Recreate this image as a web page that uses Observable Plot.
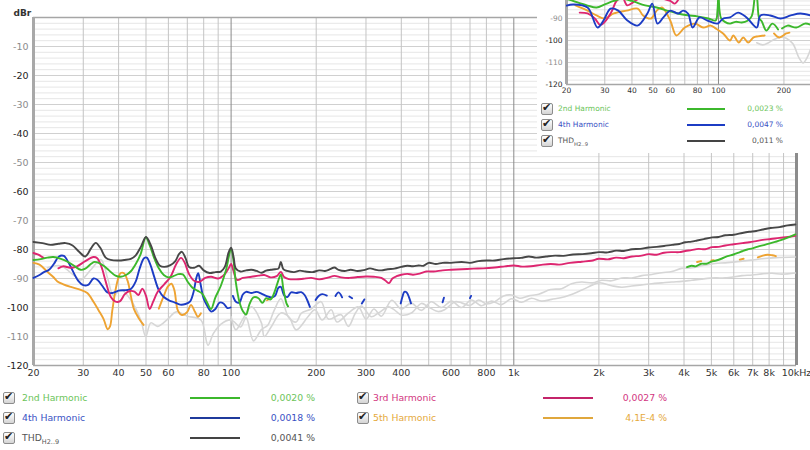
<!DOCTYPE html>
<html><head><meta charset="utf-8">
<script src="https://cdn.jsdelivr.net/npm/d3@7"></script>
<script src="https://cdn.jsdelivr.net/npm/@observablehq/plot@0.6"></script>
<style>
body{margin:0;background:#fff;font-family:"DejaVu Sans",sans-serif;}
#wrap{position:relative;width:810px;height:450px;overflow:hidden;background:#fff}
#main{position:absolute;left:0;top:0}
#inset{position:absolute;left:537px;top:0;width:273px;height:153px;background:#fff;overflow:hidden}
#insetPlot{position:absolute;left:0;top:0}
.lg{position:absolute;white-space:nowrap;line-height:12px;height:12px}
.cb{position:absolute;width:10px;height:10px;border:1px solid #8c8c8c;border-radius:2px;background:linear-gradient(#ffffff,#d4d4d4);}
.cb span{position:absolute;left:0px;top:-2px;font-size:11px;line-height:12px;color:#222;font-weight:bold}
.sw{position:absolute;height:2px}
sub{font-size:70%;vertical-align:-3px;line-height:0}
</style></head>
<body><div id="wrap"><div id="main"></div><div id="inset"><div id="insetPlot"></div></div></div>
<script>
// ---------- data (frequency Hz, level dBr) ----------
const xTickVals = [20,30,40,50,60,80,100,200,300,400,600,800,1000,2000,3000,4000,5000,6000,7000,8000,10000];
const xTickLabels = ["20","30","40","50","60","80","100","200","300","400","600","800","1k","2k","3k","4k","5k","6k","7k","8k","10kHz"];
const xGridVals = [30,40,50,60,70,80,90,200,300,400,500,600,700,800,900,2000,3000,4000,5000,6000,7000,8000,9000];
const xDecadeVals = [100,1000];
const yTickVals = [-10,-20,-30,-40,-50,-60,-70,-80,-90,-100,-110,-120];
const yTickLabels = ["-10","-20","-30","-40","-50","-60","-70","-80","-90","-100","-110","-120"];

const thd = [[20,-77.4],[21.5,-77.8],[23,-78.4],[24.5,-78],[26,-77.8],[27.5,-78.6],[29,-80.8],[30.5,-82.4],[32,-79.5],[33.2,-77.7],[34.5,-79.5],[36,-82.8],[37.5,-83.6],[40,-83.8],[42,-83.6],[44.2,-83.2],[46,-82],[48,-79],[50,-75.7],[52,-78.5],[54,-83],[56,-85.6],[58,-86],[61,-85.4],[63.5,-84],[65.5,-81.5],[67,-80.8],[69,-83],[71,-86],[74,-86.3],[77,-85.6],[80,-87.2],[84,-88.1],[88,-87.8],[92,-87.6],[95,-86],[98,-81],[100,-79.4],[102,-82.5],[104,-86.6],[108,-87.6],[113,-87.2],[118,-87],[123,-87.4],[128,-88],[133,-87.3],[138,-87],[143,-86.8],[147,-86.6],[150,-84.3],[153,-86.8],[158,-87.4],[167,-87.8],[175,-87.3],[183,-87.6],[194,-87.8],[205,-87.2],[215,-87.4],[224,-86.8],[232,-86.2],[240,-87],[252,-87.4],[265,-87],[280,-87.4],[295,-87.1],[310,-86.5],[325,-87],[340,-87.2],[358,-86.8],[378,-86.6],[400,-86],[420,-85.6],[440,-85.8],[460,-85.5],[480,-85.6],[500,-84.6],[530,-85],[560,-84.6],[600,-84.6],[654,-84.3],[700,-84.6],[750,-84],[800,-83.8],[856,-83.8],[920,-83.3],[1000,-83],[1060,-82.9],[1130,-82.4],[1200,-82.8],[1300,-82.4],[1400,-82.1],[1500,-82.2],[1620,-81.7],[1750,-81.6],[1880,-81.3],[2000,-80.9],[2150,-81],[2300,-80.4],[2450,-80.5],[2620,-79.9],[2800,-79.8],[3000,-79.3],[3200,-79.1],[3400,-78.8],[3630,-78.4],[3850,-78.1],[4040,-77.5],[4250,-77.3],[4450,-76.9],[4700,-76.4],[5030,-75.8],[5300,-75.7],[5600,-75.1],[6000,-74.9],[6430,-74.3],[6800,-73.9],[7200,-73.6],[7600,-73.1],[8100,-72.6],[8700,-72.3],[9300,-71.7],[9910,-71.4]];

const h3 = [[20,-81.2],[20.8,-81.8],[21.7,-82.9],[22.5,NaN],[24.5,-86.5],[25.5,-85.8],[27,-86.3],[28.5,-85.8],[30.5,-84],[32.6,-82.6],[33.6,-83],[34.8,-86],[36,-91],[37.5,-96.3],[39,-98],[40.5,-97.8],[42,-95.5],[43.5,-94.4],[45.5,-94.5],[47,-95.7],[48.5,-93.5],[50,-96],[51.5,-100.5],[53,-98],[55,-94.6],[58,-92],[61,-89.5],[64,-85],[66.5,-82.9],[68.5,-84.5],[71,-88.5],[74,-90.8],[77,-91.2],[81,-89.8],[85,-89.4],[90,-90],[95,-88.5],[98,-86.5],[100,-85],[102,-87.5],[105,-90.5],[110,-89.8],[118,-89.4],[125,-89],[131,-88.8],[138,-89.6],[145,-89.2],[150,-87.7],[154,-89.5],[160,-90.2],[170,-90.3],[180,-90.1],[192,-89.8],[205,-90.3],[220,-89.7],[232,-89.1],[245,-89.6],[262,-89.8],[280,-89.5],[300,-89.3],[320,-89.4],[340,-89.8],[352,-90.8],[362,-91.6],[372,-90],[385,-89.2],[400,-88.7],[420,-88.4],[440,-88.7],[465,-88.3],[490,-87.6],[520,-87.6],[560,-87.2],[600,-87],[654,-86.8],[720,-86.6],[780,-86.5],[856,-86.2],[930,-85.8],[1000,-85.5],[1070,-85.9],[1150,-85.8],[1250,-85.3],[1350,-85],[1450,-85.2],[1580,-84.6],[1740,-84.2],[1880,-83.9],[2000,-83.2],[2150,-83.4],[2300,-82.8],[2450,-83],[2620,-82.4],[2800,-82.2],[3000,-81.6],[3200,-81.8],[3400,-81.1],[3630,-80.9],[3850,-80.9],[4040,-80.5],[4250,-80.2],[4500,-79.8],[4750,-79.9],[5030,-79.2],[5300,-79.1],[5600,-78.6],[6000,-78.2],[6430,-77.8],[6800,-77.5],[7200,-77.1],[7600,-76.7],[8100,-76.4],[8700,-76],[9300,-75.7],[9910,-75.3]];

const h2 = [[20,-83.6],[21.2,-83.3],[22.4,-82.8],[23.5,-82.6],[25,-83.2],[26.5,-84.3],[28,-85.8],[29.4,-87],[30.5,-86.6],[31.9,-85],[32.8,-84.3],[34,-84.6],[35.4,-85.6],[37,-87.2],[39,-89],[40.7,-89.4],[42.5,-88.8],[44.2,-87.5],[46,-85],[47.9,-81.5],[49.9,-75.8],[51.5,-78.5],[53.3,-82.6],[55.5,-86.5],[57.8,-88.8],[60,-89.6],[62.5,-89.2],[65,-88.5],[67.5,-88.6],[70.3,-91.2],[73,-93.2],[76,-94.2],[79,-95.2],[82,-98],[84.9,-100.5],[88,-96.5],[92,-92.5],[96,-87],[100,-79.7],[102,-84],[104,-91.5],[107,-98],[110,-101.2],[113,-102.4],[116,-99],[120,-96.5],[125,-96.8],[129,-98.4],[133,-96.8],[138,-97.2],[142,-95],[146,-91.5],[150,-88.6],[153,-93.5],[157,-98.6],[159,-99.6],[160,NaN],[4100,-86.1],[4250,-85.6],[4400,-85.8],[4600,-84.9],[4800,-84.9],[5000,-84.2],[5200,-83.8],[5450,-83.1],[5700,-82.3],[5950,-81.8],[6200,-81.2],[6430,-80.6],[6700,-80],[7000,-79.6],[7300,-79],[7650,-78.5],[8000,-78],[8400,-77.4],[8800,-76.8],[9300,-75.9],[9910,-74.8]];

const h4 = [[20,-89.8],[21,-88.8],[21.7,-87.9],[22.7,-87],[23.6,-85],[24.6,-82.4],[25.6,-82.2],[26.6,-84.5],[27.7,-87.9],[28.8,-90.8],[30,-92.3],[31.2,-92.2],[32.6,-90],[33.7,-90.5],[35,-92.5],[36.5,-94.8],[38,-95],[40,-94.2],[42.5,-94],[44.2,-93.6],[46,-91],[47.5,-86.5],[49.2,-83],[50.3,-82.8],[51.8,-85.2],[53.3,-89],[55.5,-94],[57.8,-96.4],[60.5,-97.6],[63,-98.2],[66,-99],[69,-98.8],[71.5,-98],[73.5,-95],[75.5,-89.5],[76.5,-88.2],[78,-92],[80,-97],[82.5,-99.6],[85,-101.4],[88,-100.5],[91,-98.3],[94,-98.6],[97,-100.2],[99.5,-100],[100,NaN],[101.5,-96],[104,-98],[107,-98.3],[110,-95.5],[113,-94.6],[118,-95],[123,-94.6],[128,-95.2],[133,-96],[139,-96.5],[143,-96],[147,-93.2],[150,-92.9],[154,-95.8],[158,-96.4],[163,-94.8],[170,-95],[177,-94.7],[182,-95.7],[186,-97.5],[190,-99.8],[193,NaN],[199,-97.4],[204,-96],[210,-95.4],[218,-95.9],[222,NaN],[234,-96],[240,-94.8],[247,-96.5],[250,NaN],[262,-96.2],[268,-96.8],[270,NaN],[290,-98.6],[296,-97.2],[298,NaN],[398,-98.6],[404,-96.2],[410,-94.6],[418,-94.8],[426,-96.5],[433,-98.6],[436,NaN],[560,-98.2],[566,-96.6],[568,NaN],[700,-96.8],[706,-96],[708,NaN]];

const h5 = [[20,-84.6],[21,-85.2],[22.4,-87.7],[23.5,-89.5],[24.3,-91],[25.5,-92],[27.1,-92.9],[29.4,-93.9],[31,-95],[32.6,-98],[34,-101],[35.4,-104],[36.6,-107.5],[37.3,-106.5],[38,-101],[39,-94],[40,-89.5],[40.7,-88.1],[41.8,-88.2],[43.1,-91],[44.2,-96],[45.3,-100.5],[47,-103.5],[49,-106],[50,NaN],[55.5,-100.4],[57.8,-96],[59.7,-92.8],[61.5,-91.8],[63,-94],[64.8,-101],[67,-102.6],[70,-101.5],[72.1,-99.1],[74.5,-101.5],[76.3,-103.2],[78.2,-102],[79,NaN],[134,-97.5],[138,-96.8],[140,NaN],[4450,-84.3],[4600,-84],[4650,NaN],[5000,-83.8],[5100,-83.7],[5150,NaN],[6300,-83.5],[6500,-83.2],[6550,NaN],[7300,-82.7],[7600,-82.1],[7900,-81.8],[8200,-82],[8450,-82.3]];

const hiA = [[22.4,-86.3],[24.9,-85.6],[27.7,-88.8],[29.4,-90.5],[31.9,-87],[34.6,-83.5],[36.6,-90],[38.4,-96],[40.7,-93.9],[44.2,-97.4],[47.9,-104.3],[49.9,-110],[52,-105.3],[55,-106.5],[59.7,-104],[64,-101.5],[70,-103],[78.2,-104.3],[82.8,-113],[86.5,-109],[92.1,-105.7],[100,-104.3],[108,-106.7],[113,-103.5],[120,-111.5],[127.7,-107.7],[135,-106],[142,-101],[150,-97],[160,-103.5],[170,-105],[177,-102],[192,-100.5],[208,-98],[221,-104],[245,-102.5],[260,-106.5],[275,-102],[289,-99.5],[313,-103.2],[332,-101.9],[360,-99.8],[378,-100.8],[400,-102.6],[434,-101.9],[471,-98.6],[499,-99.8],[540,-101.4],[569,-100.8],[620,-98],[654,-98.4],[700,-99.3],[751,-97.4],[800,-98.8],[856,-98],[920,-96],[983,-95.7],[1050,-96.8],[1129,-96],[1225,-95.4],[1350,-93.8],[1476,-93.5],[1600,-91.8],[1738,-91.2],[1900,-91.5],[2046,-90.6],[2220,-90.8],[2409,-89.8],[2614,-89.8],[2836,-89],[3077,-88.6],[3339,-88],[3622,-87.6],[3930,-86.5],[4265,-86.3],[4627,-85.6],[5157,-84.8],[5600,-84.6],[6413,-84],[7000,-83.6],[7549,-83.2],[8500,-82.8],[9910,-82.6]];

const hiB = [[100,-103.2],[104,-107.7],[110,-104],[118,-99.8],[128,-105.3],[131,-110],[138,-107],[150,-101.9],[160,-103.2],[170,-107.7],[187,-103.2],[198,-100.8],[210,-104.3],[226,-100.8],[237,-105],[260,-101.9],[282,-99.8],[300,-104],[320,-100.5],[340,-103],[370,-97.5],[400,-100.5],[434,-98.5],[471,-101],[511,-98],[555,-100],[602,-97.8],[653,-100],[708,-97.4],[769,-99.4],[834,-97.8],[905,-99],[982,-97],[1065,-98.2],[1156,-96.8],[1254,-97.8],[1361,-97.2],[1515,-96.3],[1741,-94],[2000,-91.5],[2220,-92.5],[2409,-93],[2614,-92.6],[2836,-92.2],[3077,-91.8],[3339,-91.5],[3622,-91.2],[3930,-91],[4265,-90.6],[4627,-90.2],[5157,-89.8],[5600,-89.8],[6413,-89],[6958,-88.8],[7549,-88.4],[8191,-88.2],[8888,-88.5],[9910,-88.1]];

// inset (second measurement, 20-265 Hz)
const inXTickVals = [20,30,40,50,60,80,100,200];
const inXTickLabels = ["20","30","40","50","60","80","100","200"];
const inXGridVals = [30,40,50,60,70,80,90,200];
const inYTickVals = [-90,-100,-110,-120];
const inYTickLabels = ["-90","-100","-110","-120"];
const in2 = [[20,-81],[23,-83],[25,-84.1],[27.5,-85],[30,-83.6],[33,-82],[36,-81],[40,-82],[46,-84],[52,-85],[58,-86.4],[65,-87.7],[72,-88.5],[80,-89],[90,-90],[97,-90.9],[99,-86],[100,-75],[101,-86],[103,-90],[107,-91.5],[113,-92.3],[120,-91.5],[128,-91.8],[136,-91],[142,-89],[146,-82],[148,-72],[151,-82],[154,-90],[158,-91.2],[166,-95.5],[177,-92.3],[188,-95],[190,NaN],[196,-94.5],[208,-93.2],[228,-94.1],[250,-92.3],[265,-92.8]];
const in4 = [[20,-84.1],[21.5,-83.6],[25,-85],[27.8,-94.1],[29.6,-90.9],[31.9,-85.5],[34.6,-86.4],[38.1,-90.9],[42.4,-93.2],[47.1,-87.7],[49.6,-83.2],[52.4,-92.3],[55.8,-89.5],[60.1,-86.4],[65.3,-87.7],[68.8,-86.4],[72.4,-87.7],[76.1,-94.1],[81.8,-89.5],[88.9,-90.9],[99,-92.3],[105,-90],[113,-89.5],[123,-87.3],[134.6,-89.5],[150,-94.1],[156,-88.6],[173,-88.6],[193,-90],[215,-88.6],[238,-87.7],[265,-88.6]];
const in3 = [[23,-87.3],[25,-87.7],[27,-90],[28.6,-93],[30,-91.5],[32,-87.5],[34,-82],[36,-80],[38,-84],[40,-83],[43,-81],[48,-80],[60,-82],[63,-83.2],[67,-80],[70,-79]];
const in5 = [[22,-84],[25,-86.4],[27.5,-88.6],[30,-90],[33,-87.7],[37.8,-86.4],[42.5,-85.5],[45,-88.6],[49,-90],[52,-86.4],[55,-85],[60,-90.9],[64,-97.7],[70,-94.1],[78,-92.3],[85,-94.1],[92,-93.2],[97,-94.5],[105,-96.8],[113,-100],[117,-97.7],[124,-100.9],[130,-98.6],[137,-100.9],[145,-98.6],[152,-98.1],[163,-97.7],[168,NaN],[180,-96.8],[190,-98.6],[205,-96.8],[212,-96.4]];
const inHi = [[150,-101],[160,-102],[170,-101],[180,-99.5],[195,-98.5],[205,-99],[220,-101.5],[235,-108],[245,-110.2],[255,-108],[265,-104]];

// legend
const legendNames = ["2nd Harmonic","4th Harmonic","THD","3rd Harmonic","5th Harmonic"];
const legendSubs = ["","","H2..9","",""];
const legendValues = ["0,0020 %","0,0018 %","0,0041 %","0,0027 %","4,1E-4 %"];
const insetLegendNames = ["2nd Harmonic","4th Harmonic","THD"];
const insetLegendSubs = ["","","H2..9"];
const insetLegendValues = ["0,0023 %","0,0047 %","0,011 %"];

// ---------- styles ----------
const C = {h2:"#3cb82c", h3:"#dd2670", h4:"#1c3cc4", h5:"#eea332", thd:"#474747", hi:"#d6d6d6"};
const legendLine = [C.h2, "#1f3a9c", "#444", "#c4246a", "#e0a73c"];
const legendText = ["#6cc45a", "#3a52c4", "#555", "#d2367f", "#e5a93c"];

const toRows = a => a.map(([f, v]) => ({f, v}));
function curve(data, color, w, clip) {
  return Plot.line(toRows(data), {x: "f", y: "v", stroke: color, strokeWidth: w, curve: "catmull-rom", clip: !!clip, strokeLinejoin: "round"});
}
const xTicks = xTickVals.map((v, i) => ({v, t: xTickLabels[i]}));
const yTicks = yTickVals.map((v, i) => ({v, t: yTickLabels[i]}));

const main = Plot.plot({
  width: 810, height: 390,
  marginLeft: 33, marginRight: 14, marginTop: 17, marginBottom: 25,
  x: {type: "log", domain: [20, 10000], axis: null},
  y: {domain: [-120, 0], axis: null},
  style: {fontFamily: "DejaVu Sans, sans-serif", background: "#fff", overflow: "visible"},
  marks: [
    Plot.ruleY(d3.range(-118, 0, 2), {stroke: "#e6e6e6"}),
    Plot.ruleY(yTickVals.slice(0, -1), {stroke: "#d0d0d0"}),
    Plot.ruleX(xGridVals, {stroke: "#c4c4c4"}),
    Plot.ruleX(xDecadeVals, {stroke: "#8a8a8a"}),
    Plot.ruleY([0], {stroke: "#a6a6a6", strokeWidth: 1.5}),
    Plot.ruleY([-120], {stroke: "#a6a6a6", strokeWidth: 1.5}),
    Plot.ruleX([20], {stroke: "#a8a8a8", strokeWidth: 3}),
    Plot.ruleX([10000], {stroke: "#8c8c8c", strokeWidth: 3}),
    curve(hiB, C.hi, 1.6),
    curve(hiA, C.hi, 1.6),
    curve(h5, C.h5, 1.9),
    curve(h4, C.h4, 1.9),
    curve(h3, C.h3, 1.9),
    curve(h2, C.h2, 1.9),
    curve(thd, C.thd, 1.9),
    Plot.text(xTicks, {x: "v", text: "t", frameAnchor: "bottom", dy: 10, fontSize: 9.5, fill: "#333"}),
    Plot.text(yTicks.filter(d => d.v % 20 === 0), {y: "v", text: "t", frameAnchor: "left", dx: -5, textAnchor: "end", fontSize: 9.5, fill: "#222"}),
    Plot.text(yTicks.filter(d => d.v % 20 !== 0), {y: "v", text: "t", frameAnchor: "left", dx: -5, textAnchor: "end", fontSize: 9.5, fill: "#8c8c8c"}),
    Plot.text(["dBr"], {frameAnchor: "top-left", dx: -20, dy: -8, textAnchor: "start", fontSize: 9, fontWeight: "bold", fill: "#333"})
  ]
});
document.getElementById("main").appendChild(main);

const inXTicks = inXTickVals.map((v, i) => ({v, t: inXTickLabels[i]}));
const inYTicks = inYTickVals.map((v, i) => ({v, t: inYTickLabels[i]}));
const inset = Plot.plot({
  width: 273, height: 100,
  marginLeft: 29, marginRight: 0, marginTop: 0, marginBottom: 16,
  x: {type: "log", domain: [20, 265], axis: null},
  y: {domain: [-120, -81.8], axis: null},
  style: {fontFamily: "DejaVu Sans, sans-serif", background: "#fff", overflow: "visible"},
  marks: [
    Plot.ruleY(d3.range(-118, -81, 2), {stroke: "#e6e6e6"}),
    Plot.ruleY([-90, -100, -110], {stroke: "#d0d0d0"}),
    Plot.ruleX(inXGridVals, {stroke: "#c4c4c4"}),
    Plot.ruleX([100], {stroke: "#8a8a8a"}),
    Plot.ruleY([-120], {stroke: "#a6a6a6", strokeWidth: 1.5}),
    Plot.ruleX([20], {stroke: "#a8a8a8", strokeWidth: 3}),
    curve(inHi, C.hi, 1.6, true),
    curve(in5, C.h5, 1.9, true),
    curve(in3, C.h3, 1.9, true),
    curve(in2, C.h2, 1.9, true),
    curve(in4, C.h4, 1.9, true),
    Plot.text(inXTicks, {x: "v", text: "t", frameAnchor: "bottom", dy: 8, fontSize: 7.5, fill: "#333"}),
    Plot.text(inYTicks.filter(d => d.v % 20 === 0), {y: "v", text: "t", frameAnchor: "left", dx: -4, textAnchor: "end", fontSize: 7.5, fill: "#222"}),
    Plot.text(inYTicks.filter(d => d.v % 20 !== 0), {y: "v", text: "t", frameAnchor: "left", dx: -4, textAnchor: "end", fontSize: 7.5, fill: "#8c8c8c"})
  ]
});
document.getElementById("insetPlot").appendChild(inset);

// ---------- legends ----------
function addLegend(parent, names, subs, values, opts) {
  names.forEach((name, i) => {
    const col = Math.floor(i / 3), row = i % 3;
    const cy = opts.rowY[row];
    const cbx = opts.cbX[col], tx = opts.textX[col], lx = opts.lineX[col], vr = opts.valueR[col];
    const cb = document.createElement("div");
    cb.className = "cb";
    cb.style.left = cbx + "px"; cb.style.top = (cy - 6) + "px";
    cb.innerHTML = "<span>\u2714</span>";
    parent.appendChild(cb);
    const t = document.createElement("div");
    t.className = "lg";
    t.style.left = tx + "px"; t.style.top = (cy - 6) + "px";
    t.style.fontSize = opts.fs + "px"; t.style.color = opts.textColor[i];
    t.innerHTML = name + (subs[i] ? "<sub>" + subs[i] + "</sub>" : "");
    parent.appendChild(t);
    const sw = document.createElement("div");
    sw.className = "sw";
    sw.style.left = lx + "px"; sw.style.width = opts.lineW + "px"; sw.style.top = (cy - 1) + "px";
    sw.style.background = opts.lineColor[i];
    parent.appendChild(sw);
    const v = document.createElement("div");
    v.className = "lg";
    v.style.right = (opts.W - vr) + "px"; v.style.top = (cy - 6) + "px";
    v.style.fontSize = opts.fs + "px"; v.style.color = opts.textColor[i];
    v.textContent = values[i];
    parent.appendChild(v);
  });
}
addLegend(document.getElementById("wrap"), legendNames, legendSubs, legendValues, {
  rowY: [398, 418, 438], cbX: [3, 357], textX: [22, 373], lineX: [190, 543], lineW: 50,
  valueR: [315, 667], W: 810, fs: 9.3, textColor: legendText, lineColor: legendLine
});
addLegend(document.getElementById("inset"), insetLegendNames, insetLegendSubs, insetLegendValues, {
  rowY: [109, 125, 141], cbX: [4], textX: [21], lineX: [150], lineW: 38,
  valueR: [246], W: 273, fs: 7.5, textColor: ["#6cc45a", "#3a52c4", "#555"], lineColor: [C.h2, C.h4, "#444"]
});
</script></body></html>
